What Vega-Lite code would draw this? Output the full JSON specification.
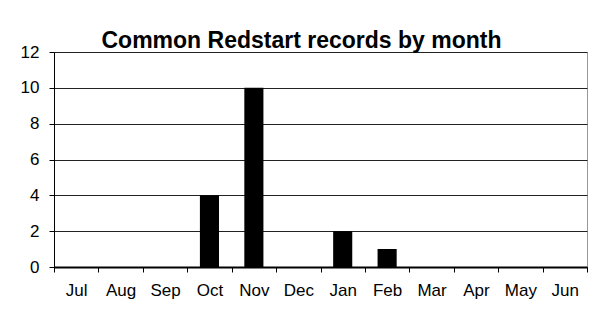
{
  "$schema": "https://vega.github.io/schema/vega-lite/v6.json",
  "width": 533,
  "height": 215,
  "autosize": {"type": "none"},
  "padding": {"left": 54, "top": 52, "right": 10, "bottom": 42},
  "background": "white",
  "title": {
    "text": "Common Redstart records by month",
    "font": "Liberation Sans",
    "fontSize": 23,
    "fontWeight": "bold",
    "color": "black",
    "anchor": "middle",
    "frame": "group",
    "baseline": "alphabetic",
    "offset": 3,
    "dx": -19,
    "dy": 31
  },
  "data": {
    "values": [
      {"month": "Jul", "records": 0},
      {"month": "Aug", "records": 0},
      {"month": "Sep", "records": 0},
      {"month": "Oct", "records": 4},
      {"month": "Nov", "records": 10},
      {"month": "Dec", "records": 0},
      {"month": "Jan", "records": 2},
      {"month": "Feb", "records": 1},
      {"month": "Mar", "records": 0},
      {"month": "Apr", "records": 0},
      {"month": "May", "records": 0},
      {"month": "Jun", "records": 0}
    ]
  },
  "mark": {"type": "bar", "color": "black", "width": {"band": 0.43}},
  "encoding": {
    "x": {
      "field": "month",
      "type": "nominal",
      "sort": null,
      "scale": {"paddingInner": 0, "paddingOuter": 0},
      "axis": {
        "title": null,
        "labelAngle": 0,
        "tickBand": "extent",
        "domainColor": "black",
        "domainWidth": 2,
        "tickColor": "black",
        "tickSize": 5,
        "labelPadding": 10,
        "grid": false
      }
    },
    "y": {
      "field": "records",
      "type": "quantitative",
      "scale": {"domain": [0, 12], "nice": false},
      "axis": {
        "title": null,
        "values": [0, 2, 4, 6, 8, 10, 12],
        "grid": true,
        "gridColor": "#222",
        "gridOpacity": 1,
        "domainColor": "black",
        "tickColor": "black",
        "tickSize": 5,
        "labelPadding": 10
      }
    }
  },
  "config": {
    "font": "Liberation Sans",
    "view": {"stroke": "#999", "strokeWidth": 1},
    "axis": {
      "labelFont": "Liberation Sans",
      "labelFontSize": 17,
      "labelColor": "black"
    }
  }
}
